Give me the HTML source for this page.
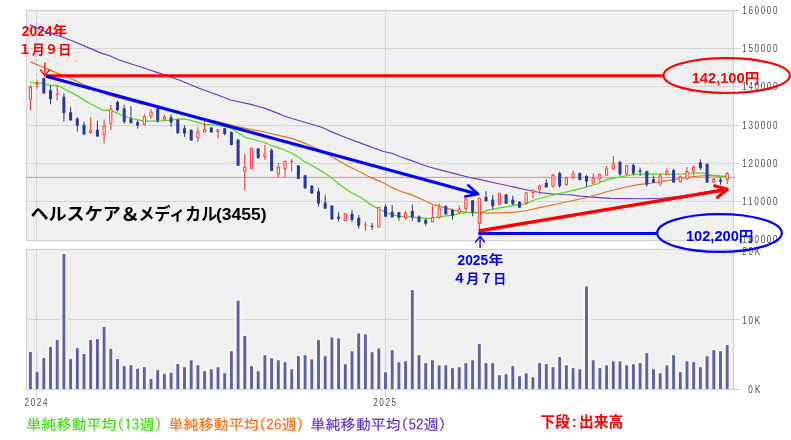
<!DOCTYPE html>
<html lang="ja"><head><meta charset="utf-8"><title>ヘルスケア＆メディカル(3455) 週足チャート</title>
<style>html,body{margin:0;padding:0;background:#fff}svg{display:block;will-change:transform}</style></head>
<body>
<svg width="791" height="440" viewBox="0 0 791 440">
<rect x="0" y="0" width="791" height="440" fill="#ffffff"/>
<rect x="26.5" y="10.5" width="707.0" height="230.0" fill="#f0f0f0" stroke="#d0d0d0" stroke-width="1.2"/>
<rect x="26.5" y="249.5" width="707.0" height="140.0" fill="#f0f0f0" stroke="#d0d0d0" stroke-width="1.2"/>
<g fill="#f8f8f5">
<rect x="27.80" y="84.0" width="5.2" height="27.6" rx="1.5"/>
<rect x="34.50" y="79.2" width="5.2" height="10.6" rx="1.5"/>
<rect x="41.20" y="76.5" width="5.2" height="18.0" rx="1.5"/>
<rect x="47.90" y="84.9" width="5.2" height="20.6" rx="1.5"/>
<rect x="54.60" y="84.9" width="5.2" height="16.6" rx="1.5"/>
<rect x="61.30" y="92.3" width="5.2" height="30.4" rx="1.5"/>
<rect x="68.00" y="105.9" width="5.2" height="15.8" rx="1.5"/>
<rect x="74.70" y="116.0" width="5.2" height="16.8" rx="1.5"/>
<rect x="81.40" y="120.7" width="5.2" height="15.5" rx="1.5"/>
<rect x="88.10" y="116.2" width="5.2" height="18.6" rx="1.5"/>
<rect x="94.80" y="119.7" width="5.2" height="18.2" rx="1.5"/>
<rect x="101.50" y="118.3" width="5.2" height="26.2" rx="1.5"/>
<rect x="108.20" y="103.9" width="5.2" height="26.9" rx="1.5"/>
<rect x="114.90" y="99.5" width="5.2" height="13.1" rx="1.5"/>
<rect x="121.60" y="103.9" width="5.2" height="20.8" rx="1.5"/>
<rect x="128.30" y="105.1" width="5.2" height="19.6" rx="1.5"/>
<rect x="135.00" y="119.3" width="5.2" height="10.5" rx="1.5"/>
<rect x="141.70" y="113.2" width="5.2" height="13.5" rx="1.5"/>
<rect x="148.40" y="108.2" width="5.2" height="11.5" rx="1.5"/>
<rect x="155.10" y="107.0" width="5.2" height="16.7" rx="1.5"/>
<rect x="161.80" y="113.6" width="5.2" height="8.5" rx="1.5"/>
<rect x="168.50" y="113.2" width="5.2" height="14.5" rx="1.5"/>
<rect x="175.20" y="117.6" width="5.2" height="17.4" rx="1.5"/>
<rect x="181.90" y="124.3" width="5.2" height="13.7" rx="1.5"/>
<rect x="188.60" y="128.3" width="5.2" height="13.7" rx="1.5"/>
<rect x="195.30" y="126.3" width="5.2" height="16.8" rx="1.5"/>
<rect x="202.00" y="120.2" width="5.2" height="13.6" rx="1.5"/>
<rect x="208.70" y="125.9" width="5.2" height="7.9" rx="1.5"/>
<rect x="215.40" y="127.9" width="5.2" height="11.9" rx="1.5"/>
<rect x="222.10" y="126.7" width="5.2" height="9.7" rx="1.5"/>
<rect x="228.80" y="130.4" width="5.2" height="16.1" rx="1.5"/>
<rect x="235.50" y="137.8" width="5.2" height="29.3" rx="1.5"/>
<rect x="242.20" y="152.6" width="5.2" height="38.4" rx="1.5"/>
<rect x="248.90" y="146.9" width="5.2" height="23.3" rx="1.5"/>
<rect x="255.60" y="146.9" width="5.2" height="12.8" rx="1.5"/>
<rect x="262.30" y="143.9" width="5.2" height="16.8" rx="1.5"/>
<rect x="269.00" y="147.5" width="5.2" height="24.7" rx="1.5"/>
<rect x="275.70" y="162.1" width="5.2" height="16.3" rx="1.5"/>
<rect x="282.40" y="159.5" width="5.2" height="19.1" rx="1.5"/>
<rect x="289.10" y="157.7" width="5.2" height="15.0" rx="1.5"/>
<rect x="295.80" y="164.0" width="5.2" height="16.3" rx="1.5"/>
<rect x="302.50" y="173.8" width="5.2" height="16.0" rx="1.5"/>
<rect x="309.20" y="184.0" width="5.2" height="10.9" rx="1.5"/>
<rect x="315.90" y="187.0" width="5.2" height="20.6" rx="1.5"/>
<rect x="322.60" y="193.9" width="5.2" height="16.1" rx="1.5"/>
<rect x="329.30" y="204.0" width="5.2" height="16.8" rx="1.5"/>
<rect x="336.00" y="211.0" width="5.2" height="11.4" rx="1.5"/>
<rect x="342.70" y="211.7" width="5.2" height="10.5" rx="1.5"/>
<rect x="349.40" y="209.0" width="5.2" height="14.2" rx="1.5"/>
<rect x="356.10" y="214.1" width="5.2" height="15.4" rx="1.5"/>
<rect x="362.80" y="220.8" width="5.2" height="11.1" rx="1.5"/>
<rect x="369.50" y="221.8" width="5.2" height="9.1" rx="1.5"/>
<rect x="376.20" y="206.0" width="5.2" height="22.8" rx="1.5"/>
<rect x="382.90" y="203.6" width="5.2" height="14.5" rx="1.5"/>
<rect x="389.60" y="204.0" width="5.2" height="14.7" rx="1.5"/>
<rect x="396.30" y="210.7" width="5.2" height="11.1" rx="1.5"/>
<rect x="403.00" y="210.1" width="5.2" height="10.7" rx="1.5"/>
<rect x="409.70" y="203.2" width="5.2" height="18.6" rx="1.5"/>
<rect x="416.40" y="214.3" width="5.2" height="9.5" rx="1.5"/>
<rect x="423.10" y="217.7" width="5.2" height="9.1" rx="1.5"/>
<rect x="429.80" y="204.6" width="5.2" height="19.2" rx="1.5"/>
<rect x="436.50" y="202.6" width="5.2" height="17.1" rx="1.5"/>
<rect x="443.20" y="204.0" width="5.2" height="11.7" rx="1.5"/>
<rect x="449.90" y="207.6" width="5.2" height="13.2" rx="1.5"/>
<rect x="456.60" y="204.6" width="5.2" height="9.7" rx="1.5"/>
<rect x="463.30" y="197.1" width="5.2" height="15.6" rx="1.5"/>
<rect x="470.00" y="198.9" width="5.2" height="18.4" rx="1.5"/>
<rect x="476.70" y="196.5" width="5.2" height="36.4" rx="1.5"/>
<rect x="483.40" y="190.0" width="5.2" height="12.6" rx="1.5"/>
<rect x="490.10" y="193.9" width="5.2" height="16.7" rx="1.5"/>
<rect x="496.80" y="191.5" width="5.2" height="14.5" rx="1.5"/>
<rect x="503.50" y="192.9" width="5.2" height="12.1" rx="1.5"/>
<rect x="510.20" y="194.5" width="5.2" height="11.5" rx="1.5"/>
<rect x="516.90" y="200.2" width="5.2" height="8.8" rx="1.5"/>
<rect x="523.60" y="190.8" width="5.2" height="15.2" rx="1.5"/>
<rect x="530.30" y="188.0" width="5.2" height="11.5" rx="1.5"/>
<rect x="537.00" y="183.4" width="5.2" height="12.1" rx="1.5"/>
<rect x="543.70" y="178.3" width="5.2" height="10.5" rx="1.5"/>
<rect x="550.40" y="172.8" width="5.2" height="15.6" rx="1.5"/>
<rect x="557.10" y="170.6" width="5.2" height="18.2" rx="1.5"/>
<rect x="563.80" y="175.5" width="5.2" height="11.5" rx="1.5"/>
<rect x="570.50" y="169.5" width="5.2" height="11.0" rx="1.5"/>
<rect x="577.20" y="171.5" width="5.2" height="10.1" rx="1.5"/>
<rect x="583.90" y="173.9" width="5.2" height="14.1" rx="1.5"/>
<rect x="590.60" y="172.5" width="5.2" height="12.5" rx="1.5"/>
<rect x="597.30" y="172.5" width="5.2" height="11.5" rx="1.5"/>
<rect x="604.00" y="165.0" width="5.2" height="12.1" rx="1.5"/>
<rect x="610.70" y="154.9" width="5.2" height="15.9" rx="1.5"/>
<rect x="617.40" y="159.7" width="5.2" height="17.4" rx="1.5"/>
<rect x="624.10" y="163.8" width="5.2" height="12.1" rx="1.5"/>
<rect x="630.80" y="162.4" width="5.2" height="14.1" rx="1.5"/>
<rect x="637.50" y="166.4" width="5.2" height="10.7" rx="1.5"/>
<rect x="644.20" y="169.5" width="5.2" height="18.1" rx="1.5"/>
<rect x="650.90" y="174.5" width="5.2" height="9.5" rx="1.5"/>
<rect x="657.60" y="172.5" width="5.2" height="14.7" rx="1.5"/>
<rect x="664.30" y="167.4" width="5.2" height="9.1" rx="1.5"/>
<rect x="671.00" y="167.8" width="5.2" height="16.2" rx="1.5"/>
<rect x="677.70" y="174.5" width="5.2" height="9.5" rx="1.5"/>
<rect x="684.40" y="166.0" width="5.2" height="15.0" rx="1.5"/>
<rect x="691.10" y="164.4" width="5.2" height="12.1" rx="1.5"/>
<rect x="697.80" y="158.3" width="5.2" height="12.5" rx="1.5"/>
<rect x="704.50" y="162.4" width="5.2" height="21.6" rx="1.5"/>
<rect x="711.20" y="177.0" width="5.2" height="7.3" rx="1.5"/>
<rect x="717.90" y="176.6" width="5.2" height="9.2" rx="1.5"/>
<rect x="724.60" y="170.9" width="5.2" height="14.1" rx="1.5"/>
</g>
<g stroke="#d3d3d3" stroke-width="1" fill="none">
<line x1="26.5" y1="48.5" x2="733.5" y2="48.5"/>
<line x1="26.5" y1="86.5" x2="733.5" y2="86.5"/>
<line x1="26.5" y1="125.5" x2="733.5" y2="125.5"/>
<line x1="26.5" y1="163.5" x2="733.5" y2="163.5"/>
<line x1="26.5" y1="201.5" x2="733.5" y2="201.5"/>
<line x1="26.5" y1="319.5" x2="733.5" y2="319.5"/>
<line x1="36.5" y1="10.5" x2="36.5" y2="240.5"/>
<line x1="36.5" y1="249.5" x2="36.5" y2="397.5"/>
<line x1="385.5" y1="10.5" x2="385.5" y2="240.5"/>
<line x1="385.5" y1="249.5" x2="385.5" y2="397.5"/>
<line x1="733.5" y1="10.5" x2="740.0" y2="10.5"/>
<line x1="733.5" y1="48.5" x2="740.0" y2="48.5"/>
<line x1="733.5" y1="86.5" x2="740.0" y2="86.5"/>
<line x1="733.5" y1="125.5" x2="740.0" y2="125.5"/>
<line x1="733.5" y1="163.5" x2="740.0" y2="163.5"/>
<line x1="733.5" y1="201.5" x2="740.0" y2="201.5"/>
<line x1="733.5" y1="239.5" x2="740.0" y2="239.5"/>
<line x1="733.5" y1="249.5" x2="740.0" y2="249.5"/>
<line x1="733.5" y1="319.5" x2="740.0" y2="319.5"/>
<line x1="733.5" y1="389.5" x2="740.0" y2="389.5"/>
</g>
<g font-family="'Liberation Sans', sans-serif" font-size="10.1" fill="#4c4c4c">
<text transform="translate(742.3,14.2) scale(0.8,1)" textLength="44.0" lengthAdjust="spacing">160000</text>
<text transform="translate(742.3,52.2) scale(0.8,1)" textLength="44.0" lengthAdjust="spacing">150000</text>
<text transform="translate(742.3,90.2) scale(0.8,1)" textLength="44.0" lengthAdjust="spacing">140000</text>
<text transform="translate(742.3,129.2) scale(0.8,1)" textLength="44.0" lengthAdjust="spacing">130000</text>
<text transform="translate(742.3,167.2) scale(0.8,1)" textLength="44.0" lengthAdjust="spacing">120000</text>
<text transform="translate(742.3,205.2) scale(0.8,1)" textLength="44.0" lengthAdjust="spacing">110000</text>
<text transform="translate(742.3,243.2) scale(0.8,1)" textLength="44.0" lengthAdjust="spacing">100000</text>
<text transform="translate(742.3,254.6) scale(0.8,1)" textLength="22.4" lengthAdjust="spacing">20K</text>
<text transform="translate(742.3,323.5) scale(0.8,1)" textLength="22.4" lengthAdjust="spacing">10K</text>
<text transform="translate(748.2,393.3) scale(0.8,1)" textLength="15.1" lengthAdjust="spacing">0K</text>
<text transform="translate(24.5,406.2) scale(0.8,1)" textLength="28.6" lengthAdjust="spacing">2024</text>
<text transform="translate(373.2,406.2) scale(0.8,1)" textLength="28.6" lengthAdjust="spacing">2025</text>
</g>
<g fill="#f9f8f2">
<rect x="27.10" y="351.0" width="6.6" height="38.0"/>
<rect x="33.80" y="370.8" width="6.6" height="18.2"/>
<rect x="40.50" y="357.0" width="6.6" height="32.0"/>
<rect x="47.20" y="345.9" width="6.6" height="43.1"/>
<rect x="53.90" y="339.0" width="6.6" height="50.0"/>
<rect x="60.60" y="253.0" width="6.6" height="136.0"/>
<rect x="67.30" y="358.0" width="6.6" height="31.0"/>
<rect x="74.00" y="347.1" width="6.6" height="41.9"/>
<rect x="80.70" y="353.0" width="6.6" height="36.0"/>
<rect x="87.40" y="339.0" width="6.6" height="50.0"/>
<rect x="94.10" y="338.0" width="6.6" height="51.0"/>
<rect x="100.80" y="325.9" width="6.6" height="63.1"/>
<rect x="107.50" y="347.9" width="6.6" height="41.1"/>
<rect x="114.20" y="358.0" width="6.6" height="31.0"/>
<rect x="120.90" y="365.1" width="6.6" height="23.9"/>
<rect x="127.60" y="364.1" width="6.6" height="24.9"/>
<rect x="134.30" y="367.7" width="6.6" height="21.3"/>
<rect x="141.00" y="366.1" width="6.6" height="22.9"/>
<rect x="147.70" y="377.9" width="6.6" height="11.1"/>
<rect x="154.40" y="369.2" width="6.6" height="19.8"/>
<rect x="161.10" y="372.8" width="6.6" height="16.2"/>
<rect x="167.80" y="371.8" width="6.6" height="17.2"/>
<rect x="174.50" y="363.1" width="6.6" height="25.9"/>
<rect x="181.20" y="366.2" width="6.6" height="22.8"/>
<rect x="187.90" y="359.3" width="6.6" height="29.7"/>
<rect x="194.60" y="364.3" width="6.6" height="24.7"/>
<rect x="201.30" y="370.2" width="6.6" height="18.8"/>
<rect x="208.00" y="368.2" width="6.6" height="20.8"/>
<rect x="214.70" y="366.2" width="6.6" height="22.8"/>
<rect x="221.40" y="372.2" width="6.6" height="16.8"/>
<rect x="228.10" y="350.2" width="6.6" height="38.8"/>
<rect x="234.80" y="299.7" width="6.6" height="89.3"/>
<rect x="241.50" y="335.0" width="6.6" height="54.0"/>
<rect x="248.20" y="365.1" width="6.6" height="23.9"/>
<rect x="254.90" y="370.2" width="6.6" height="18.8"/>
<rect x="261.60" y="354.2" width="6.6" height="34.8"/>
<rect x="268.30" y="357.3" width="6.6" height="31.7"/>
<rect x="275.00" y="359.3" width="6.6" height="29.7"/>
<rect x="281.70" y="361.1" width="6.6" height="27.9"/>
<rect x="288.40" y="368.2" width="6.6" height="20.8"/>
<rect x="295.10" y="355.2" width="6.6" height="33.8"/>
<rect x="301.80" y="354.2" width="6.6" height="34.8"/>
<rect x="308.50" y="358.3" width="6.6" height="30.7"/>
<rect x="315.20" y="339.1" width="6.6" height="49.9"/>
<rect x="321.90" y="355.2" width="6.6" height="33.8"/>
<rect x="328.60" y="336.4" width="6.6" height="52.6"/>
<rect x="335.30" y="337.4" width="6.6" height="51.6"/>
<rect x="342.00" y="363.3" width="6.6" height="25.7"/>
<rect x="348.70" y="350.2" width="6.6" height="38.8"/>
<rect x="355.40" y="332.4" width="6.6" height="56.6"/>
<rect x="362.10" y="333.4" width="6.6" height="55.6"/>
<rect x="368.80" y="351.2" width="6.6" height="37.8"/>
<rect x="375.50" y="347.5" width="6.6" height="41.5"/>
<rect x="382.20" y="371.4" width="6.6" height="17.6"/>
<rect x="388.90" y="349.2" width="6.6" height="39.8"/>
<rect x="395.60" y="361.3" width="6.6" height="27.7"/>
<rect x="402.30" y="360.3" width="6.6" height="28.7"/>
<rect x="409.00" y="289.1" width="6.6" height="99.9"/>
<rect x="415.70" y="354.2" width="6.6" height="34.8"/>
<rect x="422.40" y="362.1" width="6.6" height="26.9"/>
<rect x="429.10" y="359.3" width="6.6" height="29.7"/>
<rect x="435.80" y="364.3" width="6.6" height="24.7"/>
<rect x="442.50" y="364.3" width="6.6" height="24.7"/>
<rect x="449.20" y="367.2" width="6.6" height="21.8"/>
<rect x="455.90" y="366.2" width="6.6" height="22.8"/>
<rect x="462.60" y="362.1" width="6.6" height="26.9"/>
<rect x="469.30" y="359.3" width="6.6" height="29.7"/>
<rect x="476.00" y="343.1" width="6.6" height="45.9"/>
<rect x="482.70" y="362.1" width="6.6" height="26.9"/>
<rect x="489.40" y="362.1" width="6.6" height="26.9"/>
<rect x="496.10" y="374.2" width="6.6" height="14.8"/>
<rect x="502.80" y="373.2" width="6.6" height="15.8"/>
<rect x="509.50" y="365.1" width="6.6" height="23.9"/>
<rect x="516.20" y="375.3" width="6.6" height="13.7"/>
<rect x="522.90" y="372.2" width="6.6" height="16.8"/>
<rect x="529.60" y="376.3" width="6.6" height="12.7"/>
<rect x="536.30" y="362.1" width="6.6" height="26.9"/>
<rect x="543.00" y="363.1" width="6.6" height="25.9"/>
<rect x="549.70" y="366.2" width="6.6" height="22.8"/>
<rect x="556.40" y="356.0" width="6.6" height="33.0"/>
<rect x="563.10" y="364.3" width="6.6" height="24.7"/>
<rect x="569.80" y="367.2" width="6.6" height="21.8"/>
<rect x="576.50" y="368.2" width="6.6" height="20.8"/>
<rect x="583.20" y="285.5" width="6.6" height="103.5"/>
<rect x="589.90" y="359.3" width="6.6" height="29.7"/>
<rect x="596.60" y="367.2" width="6.6" height="21.8"/>
<rect x="603.30" y="364.3" width="6.6" height="24.7"/>
<rect x="610.00" y="360.3" width="6.6" height="28.7"/>
<rect x="616.70" y="360.3" width="6.6" height="28.7"/>
<rect x="623.40" y="364.3" width="6.6" height="24.7"/>
<rect x="630.10" y="363.3" width="6.6" height="25.7"/>
<rect x="636.80" y="362.1" width="6.6" height="26.9"/>
<rect x="643.50" y="352.2" width="6.6" height="36.8"/>
<rect x="650.20" y="368.2" width="6.6" height="20.8"/>
<rect x="656.90" y="372.2" width="6.6" height="16.8"/>
<rect x="663.60" y="364.3" width="6.6" height="24.7"/>
<rect x="670.30" y="354.2" width="6.6" height="34.8"/>
<rect x="677.00" y="371.2" width="6.6" height="17.8"/>
<rect x="683.70" y="360.3" width="6.6" height="28.7"/>
<rect x="690.40" y="361.1" width="6.6" height="27.9"/>
<rect x="697.10" y="366.2" width="6.6" height="22.8"/>
<rect x="703.80" y="355.2" width="6.6" height="33.8"/>
<rect x="710.50" y="349.2" width="6.6" height="39.8"/>
<rect x="717.20" y="350.2" width="6.6" height="38.8"/>
<rect x="723.90" y="344.1" width="6.6" height="44.9"/>
</g>
<g fill="#5a62a9">
<rect x="28.95" y="352.0" width="2.9" height="37.0"/>
<rect x="35.65" y="371.8" width="2.9" height="17.2"/>
<rect x="42.35" y="358.0" width="2.9" height="31.0"/>
<rect x="49.05" y="346.9" width="2.9" height="42.1"/>
<rect x="55.75" y="340.0" width="2.9" height="49.0"/>
<rect x="62.45" y="254.0" width="2.9" height="135.0"/>
<rect x="69.15" y="359.0" width="2.9" height="30.0"/>
<rect x="75.85" y="348.1" width="2.9" height="40.9"/>
<rect x="82.55" y="354.0" width="2.9" height="35.0"/>
<rect x="89.25" y="340.0" width="2.9" height="49.0"/>
<rect x="95.95" y="339.0" width="2.9" height="50.0"/>
<rect x="102.65" y="326.9" width="2.9" height="62.1"/>
<rect x="109.35" y="348.9" width="2.9" height="40.1"/>
<rect x="116.05" y="359.0" width="2.9" height="30.0"/>
<rect x="122.75" y="366.1" width="2.9" height="22.9"/>
<rect x="129.45" y="365.1" width="2.9" height="23.9"/>
<rect x="136.15" y="368.7" width="2.9" height="20.3"/>
<rect x="142.85" y="367.1" width="2.9" height="21.9"/>
<rect x="149.55" y="378.9" width="2.9" height="10.1"/>
<rect x="156.25" y="370.2" width="2.9" height="18.8"/>
<rect x="162.95" y="373.8" width="2.9" height="15.2"/>
<rect x="169.65" y="372.8" width="2.9" height="16.2"/>
<rect x="176.35" y="364.1" width="2.9" height="24.9"/>
<rect x="183.05" y="367.2" width="2.9" height="21.8"/>
<rect x="189.75" y="360.3" width="2.9" height="28.7"/>
<rect x="196.45" y="365.3" width="2.9" height="23.7"/>
<rect x="203.15" y="371.2" width="2.9" height="17.8"/>
<rect x="209.85" y="369.2" width="2.9" height="19.8"/>
<rect x="216.55" y="367.2" width="2.9" height="21.8"/>
<rect x="223.25" y="373.2" width="2.9" height="15.8"/>
<rect x="229.95" y="351.2" width="2.9" height="37.8"/>
<rect x="236.65" y="300.7" width="2.9" height="88.3"/>
<rect x="243.35" y="336.0" width="2.9" height="53.0"/>
<rect x="250.05" y="366.1" width="2.9" height="22.9"/>
<rect x="256.75" y="371.2" width="2.9" height="17.8"/>
<rect x="263.45" y="355.2" width="2.9" height="33.8"/>
<rect x="270.15" y="358.3" width="2.9" height="30.7"/>
<rect x="276.85" y="360.3" width="2.9" height="28.7"/>
<rect x="283.55" y="362.1" width="2.9" height="26.9"/>
<rect x="290.25" y="369.2" width="2.9" height="19.8"/>
<rect x="296.95" y="356.2" width="2.9" height="32.8"/>
<rect x="303.65" y="355.2" width="2.9" height="33.8"/>
<rect x="310.35" y="359.3" width="2.9" height="29.7"/>
<rect x="317.05" y="340.1" width="2.9" height="48.9"/>
<rect x="323.75" y="356.2" width="2.9" height="32.8"/>
<rect x="330.45" y="337.4" width="2.9" height="51.6"/>
<rect x="337.15" y="338.4" width="2.9" height="50.6"/>
<rect x="343.85" y="364.3" width="2.9" height="24.7"/>
<rect x="350.55" y="351.2" width="2.9" height="37.8"/>
<rect x="357.25" y="333.4" width="2.9" height="55.6"/>
<rect x="363.95" y="334.4" width="2.9" height="54.6"/>
<rect x="370.65" y="352.2" width="2.9" height="36.8"/>
<rect x="377.35" y="348.5" width="2.9" height="40.5"/>
<rect x="384.05" y="372.4" width="2.9" height="16.6"/>
<rect x="390.75" y="350.2" width="2.9" height="38.8"/>
<rect x="397.45" y="362.3" width="2.9" height="26.7"/>
<rect x="404.15" y="361.3" width="2.9" height="27.7"/>
<rect x="410.85" y="290.1" width="2.9" height="98.9"/>
<rect x="417.55" y="355.2" width="2.9" height="33.8"/>
<rect x="424.25" y="363.1" width="2.9" height="25.9"/>
<rect x="430.95" y="360.3" width="2.9" height="28.7"/>
<rect x="437.65" y="365.3" width="2.9" height="23.7"/>
<rect x="444.35" y="365.3" width="2.9" height="23.7"/>
<rect x="451.05" y="368.2" width="2.9" height="20.8"/>
<rect x="457.75" y="367.2" width="2.9" height="21.8"/>
<rect x="464.45" y="363.1" width="2.9" height="25.9"/>
<rect x="471.15" y="360.3" width="2.9" height="28.7"/>
<rect x="477.85" y="344.1" width="2.9" height="44.9"/>
<rect x="484.55" y="363.1" width="2.9" height="25.9"/>
<rect x="491.25" y="363.1" width="2.9" height="25.9"/>
<rect x="497.95" y="375.2" width="2.9" height="13.8"/>
<rect x="504.65" y="374.2" width="2.9" height="14.8"/>
<rect x="511.35" y="366.1" width="2.9" height="22.9"/>
<rect x="518.05" y="376.3" width="2.9" height="12.7"/>
<rect x="524.75" y="373.2" width="2.9" height="15.8"/>
<rect x="531.45" y="377.3" width="2.9" height="11.7"/>
<rect x="538.15" y="363.1" width="2.9" height="25.9"/>
<rect x="544.85" y="364.1" width="2.9" height="24.9"/>
<rect x="551.55" y="367.2" width="2.9" height="21.8"/>
<rect x="558.25" y="357.0" width="2.9" height="32.0"/>
<rect x="564.95" y="365.3" width="2.9" height="23.7"/>
<rect x="571.65" y="368.2" width="2.9" height="20.8"/>
<rect x="578.35" y="369.2" width="2.9" height="19.8"/>
<rect x="585.05" y="286.5" width="2.9" height="102.5"/>
<rect x="591.75" y="360.3" width="2.9" height="28.7"/>
<rect x="598.45" y="368.2" width="2.9" height="20.8"/>
<rect x="605.15" y="365.3" width="2.9" height="23.7"/>
<rect x="611.85" y="361.3" width="2.9" height="27.7"/>
<rect x="618.55" y="361.3" width="2.9" height="27.7"/>
<rect x="625.25" y="365.3" width="2.9" height="23.7"/>
<rect x="631.95" y="364.3" width="2.9" height="24.7"/>
<rect x="638.65" y="363.1" width="2.9" height="25.9"/>
<rect x="645.35" y="353.2" width="2.9" height="35.8"/>
<rect x="652.05" y="369.2" width="2.9" height="19.8"/>
<rect x="658.75" y="373.2" width="2.9" height="15.8"/>
<rect x="665.45" y="365.3" width="2.9" height="23.7"/>
<rect x="672.15" y="355.2" width="2.9" height="33.8"/>
<rect x="678.85" y="372.2" width="2.9" height="16.8"/>
<rect x="685.55" y="361.3" width="2.9" height="27.7"/>
<rect x="692.25" y="362.1" width="2.9" height="26.9"/>
<rect x="698.95" y="367.2" width="2.9" height="21.8"/>
<rect x="705.65" y="356.2" width="2.9" height="32.8"/>
<rect x="712.35" y="350.2" width="2.9" height="38.8"/>
<rect x="719.05" y="351.2" width="2.9" height="37.8"/>
<rect x="725.75" y="345.1" width="2.9" height="43.9"/>
</g>
<line x1="26.5" y1="177.4" x2="735.0" y2="177.4" stroke="#ff8080" stroke-width="1"/>
<text font-family="'Liberation Sans', 'Noto Sans CJK JP', sans-serif" font-weight="700" fill="#ff0000"><tspan x="21.8" y="36" font-size="14.8" textLength="30.6" lengthAdjust="spacingAndGlyphs">2024</tspan><tspan x="52.6" y="34.9" font-size="12.8" textLength="14.9" lengthAdjust="spacingAndGlyphs">年</tspan></text>
<polyline points="29.8,24.7 40.3,29.5 51.7,34.0 60.7,36.5 70.7,40.3 85.9,46.6 101.1,53.1 109.9,55.8 119.1,60.0 141.6,67.3 160.0,73.4 179.8,80.2 199.7,88.5 215.0,94.0 230.7,100.0 250.9,104.4 264.5,108.1 278.6,113.6 284.7,116.2 295.4,119.5 311.6,124.3 321.7,127.3 329.8,131.1 345.0,137.2 360.0,142.9 383.4,151.5 392.0,153.2 401.6,157.2 411.7,160.6 419.8,163.8 430.2,167.2 450.5,172.6 470.7,177.7 479.4,179.4 490.9,182.0 501.0,184.2 515.2,187.4 526.1,189.8 539.4,192.5 551.6,193.9 561.7,194.5 570.1,194.7 580.2,196.1 596.4,197.4 610.6,198.4 640.9,198.8 661.1,198.2 678.0,196.6 700.7,192.8 727.5,188.3" fill="none" stroke="#6a35cf" stroke-width="1.15" stroke-linejoin="round"/>
<polyline points="30.3,61.9 40.0,65.7 50.1,70.1 59.0,73.9 71.6,79.0 84.2,84.7 93.1,88.4 105.7,94.1 115.9,97.3 128.5,100.5 139.9,103.6 150.0,105.5 165.0,109.3 180.0,113.2 200.0,117.8 216.5,121.2 230.7,124.7 237.8,126.9 250.9,129.3 264.5,132.0 278.6,135.4 291.4,138.4 304.5,143.1 318.7,149.6 326.7,153.7 330.0,155.7 339.9,161.4 348.2,166.3 360.3,172.0 369.4,176.9 383.1,182.6 391.5,187.4 401.6,191.8 410.0,194.1 422.1,199.5 432.2,204.2 444.4,207.6 456.5,210.7 470.7,212.7 479.4,212.7 490.9,213.1 501.0,212.7 515.2,212.1 526.1,210.7 539.4,207.6 551.6,205.0 561.7,203.0 572.1,200.8 584.3,198.2 596.4,194.7 610.6,190.7 624.7,187.2 638.9,184.6 653.0,183.0 667.2,180.6 681.4,178.5 693.7,176.5 707.0,175.5 719.8,176.1 727.5,176.2" fill="none" stroke="#e2711d" stroke-width="1.15" stroke-linejoin="round"/>
<polyline points="30.3,82.5 43.0,83.4 50.6,85.3 57.5,85.3 76.6,95.4 89.8,103.5 103.0,110.2 111.0,110.6 117.1,113.0 123.8,116.2 130.4,118.0 137.3,119.7 143.6,121.1 157.5,121.1 164.4,120.7 170.0,120.2 182.0,118.8 190.0,120.2 204.4,124.3 217.5,125.3 224.2,126.3 231.3,128.3 237.8,132.4 244.4,137.0 251.5,138.8 257.6,140.5 264.5,142.5 271.5,145.5 278.6,147.9 284.7,150.0 291.4,153.0 298.4,157.0 304.5,161.7 311.6,165.3 320.7,170.6 330.8,177.3 340.9,185.4 351.0,192.5 361.1,197.5 369.2,203.6 377.3,208.2 385.4,212.3 393.5,215.1 401.6,216.7 411.7,217.1 418.1,217.7 426.2,218.3 432.2,218.1 440.3,216.7 452.5,215.1 465.8,212.3 479.4,212.1 490.9,209.6 501.0,207.6 512.8,205.6 526.1,203.6 535.4,199.5 547.5,196.5 559.7,193.6 572.1,190.7 584.3,187.6 596.4,184.2 606.5,179.6 620.1,176.9 633.4,174.5 646.8,173.9 660.1,174.1 673.7,174.1 683.4,173.9 693.7,173.1 703.6,173.1 709.7,174.9 719.8,176.1 727.5,176.4" fill="none" stroke="#4fdc12" stroke-width="1.25" stroke-linejoin="round"/>
<g>
<line x1="30.40" y1="85.0" x2="30.40" y2="86.8" stroke="#ff2d2d" stroke-width="1.1"/>
<line x1="30.40" y1="99.6" x2="30.40" y2="110.6" stroke="#ff2d2d" stroke-width="1.1"/>
<rect x="29.30" y="87.2" width="2.2" height="11.9" fill="#fff3f3" stroke="#ff2d2d" stroke-width="0.95"/>
<line x1="37.10" y1="80.2" x2="37.10" y2="82.5" stroke="#ff2d2d" stroke-width="1.1"/>
<line x1="37.10" y1="84.6" x2="37.10" y2="88.8" stroke="#ff2d2d" stroke-width="1.1"/>
<rect x="36.00" y="83.0" width="2.2" height="1.2" fill="#fff3f3" stroke="#ff2d2d" stroke-width="0.95"/>
<line x1="43.80" y1="77.5" x2="43.80" y2="93.5" stroke="#2a3aa0" stroke-width="1.1"/>
<rect x="42.25" y="78.1" width="3.1" height="15.4" fill="#2a3aa0"/>
<line x1="50.50" y1="85.9" x2="50.50" y2="104.5" stroke="#2a3aa0" stroke-width="1.1"/>
<rect x="48.95" y="90.1" width="3.1" height="9.1" fill="#2a3aa0"/>
<line x1="57.20" y1="85.9" x2="57.20" y2="93.5" stroke="#ff2d2d" stroke-width="1.1"/>
<line x1="57.20" y1="94.8" x2="57.20" y2="100.5" stroke="#ff2d2d" stroke-width="1.1"/>
<rect x="55.65" y="93.5" width="3.1" height="1.3" fill="#ff2d2d"/>
<line x1="63.90" y1="93.3" x2="63.90" y2="121.7" stroke="#2a3aa0" stroke-width="1.1"/>
<rect x="62.35" y="96.8" width="3.1" height="16.2" fill="#2a3aa0"/>
<line x1="70.60" y1="106.9" x2="70.60" y2="120.7" stroke="#2a3aa0" stroke-width="1.1"/>
<rect x="69.05" y="112.2" width="3.1" height="8.1" fill="#2a3aa0"/>
<line x1="77.30" y1="117.0" x2="77.30" y2="131.8" stroke="#2a3aa0" stroke-width="1.1"/>
<rect x="75.75" y="118.7" width="3.1" height="7.0" fill="#2a3aa0"/>
<line x1="84.00" y1="121.7" x2="84.00" y2="135.2" stroke="#2a3aa0" stroke-width="1.1"/>
<rect x="82.45" y="124.7" width="3.1" height="9.7" fill="#2a3aa0"/>
<line x1="90.70" y1="117.2" x2="90.70" y2="129.8" stroke="#ff2d2d" stroke-width="1.1"/>
<line x1="90.70" y1="133.2" x2="90.70" y2="133.8" stroke="#ff2d2d" stroke-width="1.1"/>
<rect x="89.60" y="130.2" width="2.2" height="2.5" fill="#fff3f3" stroke="#ff2d2d" stroke-width="0.95"/>
<line x1="97.40" y1="120.7" x2="97.40" y2="136.9" stroke="#2a3aa0" stroke-width="1.1"/>
<rect x="95.85" y="129.8" width="3.1" height="6.7" fill="#2a3aa0"/>
<line x1="104.10" y1="119.3" x2="104.10" y2="125.7" stroke="#ff2d2d" stroke-width="1.1"/>
<line x1="104.10" y1="134.8" x2="104.10" y2="143.5" stroke="#ff2d2d" stroke-width="1.1"/>
<rect x="103.00" y="126.2" width="2.2" height="8.2" fill="#fff3f3" stroke="#ff2d2d" stroke-width="0.95"/>
<line x1="110.80" y1="104.9" x2="110.80" y2="108.5" stroke="#ff2d2d" stroke-width="1.1"/>
<line x1="110.80" y1="123.7" x2="110.80" y2="129.8" stroke="#ff2d2d" stroke-width="1.1"/>
<rect x="109.70" y="109.0" width="2.2" height="14.3" fill="#fff3f3" stroke="#ff2d2d" stroke-width="0.95"/>
<line x1="117.50" y1="100.5" x2="117.50" y2="111.6" stroke="#2a3aa0" stroke-width="1.1"/>
<rect x="115.95" y="101.9" width="3.1" height="8.3" fill="#2a3aa0"/>
<line x1="124.20" y1="104.9" x2="124.20" y2="123.7" stroke="#2a3aa0" stroke-width="1.1"/>
<rect x="122.65" y="108.5" width="3.1" height="13.2" fill="#2a3aa0"/>
<line x1="130.90" y1="106.1" x2="130.90" y2="123.7" stroke="#2a3aa0" stroke-width="1.1"/>
<rect x="129.35" y="118.7" width="3.1" height="4.4" fill="#2a3aa0"/>
<line x1="137.60" y1="120.3" x2="137.60" y2="128.8" stroke="#2a3aa0" stroke-width="1.1"/>
<rect x="136.05" y="122.1" width="3.1" height="3.6" fill="#2a3aa0"/>
<line x1="144.30" y1="114.2" x2="144.30" y2="116.2" stroke="#ff2d2d" stroke-width="1.1"/>
<line x1="144.30" y1="124.7" x2="144.30" y2="125.7" stroke="#ff2d2d" stroke-width="1.1"/>
<rect x="143.20" y="116.7" width="2.2" height="7.6" fill="#fff3f3" stroke="#ff2d2d" stroke-width="0.95"/>
<line x1="151.00" y1="109.2" x2="151.00" y2="111.6" stroke="#ff2d2d" stroke-width="1.1"/>
<line x1="151.00" y1="116.6" x2="151.00" y2="118.7" stroke="#ff2d2d" stroke-width="1.1"/>
<rect x="149.90" y="112.0" width="2.2" height="4.1" fill="#fff3f3" stroke="#ff2d2d" stroke-width="0.95"/>
<line x1="157.70" y1="108.0" x2="157.70" y2="122.7" stroke="#2a3aa0" stroke-width="1.1"/>
<rect x="156.15" y="108.5" width="3.1" height="12.2" fill="#2a3aa0"/>
<line x1="164.40" y1="114.6" x2="164.40" y2="116.6" stroke="#ff2d2d" stroke-width="1.1"/>
<line x1="164.40" y1="119.7" x2="164.40" y2="121.1" stroke="#ff2d2d" stroke-width="1.1"/>
<rect x="163.30" y="117.0" width="2.2" height="2.2" fill="#fff3f3" stroke="#ff2d2d" stroke-width="0.95"/>
<line x1="171.10" y1="114.2" x2="171.10" y2="126.7" stroke="#2a3aa0" stroke-width="1.1"/>
<rect x="169.55" y="117.2" width="3.1" height="5.5" fill="#2a3aa0"/>
<line x1="177.80" y1="118.6" x2="177.80" y2="134.0" stroke="#2a3aa0" stroke-width="1.1"/>
<rect x="176.25" y="120.0" width="3.1" height="13.1" fill="#2a3aa0"/>
<line x1="184.50" y1="125.3" x2="184.50" y2="137.0" stroke="#2a3aa0" stroke-width="1.1"/>
<rect x="182.95" y="128.3" width="3.1" height="5.1" fill="#2a3aa0"/>
<line x1="191.20" y1="129.3" x2="191.20" y2="141.0" stroke="#2a3aa0" stroke-width="1.1"/>
<rect x="189.65" y="129.9" width="3.1" height="10.6" fill="#2a3aa0"/>
<line x1="197.90" y1="127.3" x2="197.90" y2="131.4" stroke="#ff2d2d" stroke-width="1.1"/>
<line x1="197.90" y1="138.0" x2="197.90" y2="142.1" stroke="#ff2d2d" stroke-width="1.1"/>
<rect x="196.80" y="131.8" width="2.2" height="5.7" fill="#fff3f3" stroke="#ff2d2d" stroke-width="0.95"/>
<line x1="204.60" y1="121.2" x2="204.60" y2="128.9" stroke="#ff2d2d" stroke-width="1.1"/>
<line x1="204.60" y1="132.4" x2="204.60" y2="132.8" stroke="#ff2d2d" stroke-width="1.1"/>
<rect x="203.50" y="129.3" width="2.2" height="2.6" fill="#fff3f3" stroke="#ff2d2d" stroke-width="0.95"/>
<line x1="211.30" y1="126.9" x2="211.30" y2="132.8" stroke="#2a3aa0" stroke-width="1.1"/>
<rect x="209.75" y="127.7" width="3.1" height="4.7" fill="#2a3aa0"/>
<line x1="218.00" y1="128.9" x2="218.00" y2="129.3" stroke="#ff2d2d" stroke-width="1.1"/>
<line x1="218.00" y1="132.0" x2="218.00" y2="138.8" stroke="#ff2d2d" stroke-width="1.1"/>
<rect x="216.90" y="129.8" width="2.2" height="1.8" fill="#fff3f3" stroke="#ff2d2d" stroke-width="0.95"/>
<line x1="224.70" y1="127.7" x2="224.70" y2="135.4" stroke="#2a3aa0" stroke-width="1.1"/>
<rect x="223.15" y="128.3" width="3.1" height="5.7" fill="#2a3aa0"/>
<line x1="231.40" y1="131.4" x2="231.40" y2="145.5" stroke="#2a3aa0" stroke-width="1.1"/>
<rect x="229.85" y="132.0" width="3.1" height="12.9" fill="#2a3aa0"/>
<line x1="238.10" y1="138.8" x2="238.10" y2="166.1" stroke="#2a3aa0" stroke-width="1.1"/>
<rect x="236.55" y="139.8" width="3.1" height="25.9" fill="#2a3aa0"/>
<line x1="244.80" y1="153.6" x2="244.80" y2="166.7" stroke="#ff2d2d" stroke-width="1.1"/>
<line x1="244.80" y1="171.8" x2="244.80" y2="190.0" stroke="#ff2d2d" stroke-width="1.1"/>
<rect x="243.70" y="167.1" width="2.2" height="4.2" fill="#fff3f3" stroke="#ff2d2d" stroke-width="0.95"/>
<line x1="251.50" y1="147.9" x2="251.50" y2="147.9" stroke="#ff2d2d" stroke-width="1.1"/>
<line x1="251.50" y1="168.8" x2="251.50" y2="169.2" stroke="#ff2d2d" stroke-width="1.1"/>
<rect x="250.40" y="148.3" width="2.2" height="20.0" fill="#fff3f3" stroke="#ff2d2d" stroke-width="0.95"/>
<line x1="258.20" y1="147.9" x2="258.20" y2="158.7" stroke="#2a3aa0" stroke-width="1.1"/>
<rect x="256.65" y="148.5" width="3.1" height="9.5" fill="#2a3aa0"/>
<line x1="264.90" y1="144.9" x2="264.90" y2="153.6" stroke="#ff2d2d" stroke-width="1.1"/>
<line x1="264.90" y1="157.2" x2="264.90" y2="159.7" stroke="#ff2d2d" stroke-width="1.1"/>
<rect x="263.80" y="154.0" width="2.2" height="2.7" fill="#fff3f3" stroke="#ff2d2d" stroke-width="0.95"/>
<line x1="271.60" y1="148.5" x2="271.60" y2="171.2" stroke="#2a3aa0" stroke-width="1.1"/>
<rect x="270.05" y="150.2" width="3.1" height="20.6" fill="#2a3aa0"/>
<line x1="278.30" y1="163.1" x2="278.30" y2="166.8" stroke="#ff2d2d" stroke-width="1.1"/>
<line x1="278.30" y1="174.5" x2="278.30" y2="177.4" stroke="#ff2d2d" stroke-width="1.1"/>
<rect x="277.20" y="167.2" width="2.2" height="6.8" fill="#fff3f3" stroke="#ff2d2d" stroke-width="0.95"/>
<line x1="285.00" y1="160.5" x2="285.00" y2="161.2" stroke="#ff2d2d" stroke-width="1.1"/>
<line x1="285.00" y1="169.0" x2="285.00" y2="177.6" stroke="#ff2d2d" stroke-width="1.1"/>
<rect x="283.90" y="161.6" width="2.2" height="6.9" fill="#fff3f3" stroke="#ff2d2d" stroke-width="0.95"/>
<line x1="291.70" y1="158.7" x2="291.70" y2="160.9" stroke="#ff2d2d" stroke-width="1.1"/>
<line x1="291.70" y1="161.5" x2="291.70" y2="171.7" stroke="#ff2d2d" stroke-width="1.1"/>
<rect x="290.15" y="160.9" width="3.1" height="1.0" fill="#ff2d2d"/>
<line x1="298.40" y1="165.0" x2="298.40" y2="179.3" stroke="#2a3aa0" stroke-width="1.1"/>
<rect x="296.85" y="165.5" width="3.1" height="13.3" fill="#2a3aa0"/>
<line x1="305.10" y1="174.8" x2="305.10" y2="188.8" stroke="#2a3aa0" stroke-width="1.1"/>
<rect x="303.55" y="175.3" width="3.1" height="13.1" fill="#2a3aa0"/>
<line x1="311.80" y1="185.0" x2="311.80" y2="193.9" stroke="#2a3aa0" stroke-width="1.1"/>
<rect x="310.25" y="185.8" width="3.1" height="7.7" fill="#2a3aa0"/>
<line x1="318.50" y1="188.0" x2="318.50" y2="206.6" stroke="#2a3aa0" stroke-width="1.1"/>
<rect x="316.95" y="191.4" width="3.1" height="12.2" fill="#2a3aa0"/>
<line x1="325.20" y1="194.9" x2="325.20" y2="209.0" stroke="#2a3aa0" stroke-width="1.1"/>
<rect x="323.65" y="202.6" width="3.1" height="6.0" fill="#2a3aa0"/>
<line x1="331.90" y1="205.0" x2="331.90" y2="219.8" stroke="#2a3aa0" stroke-width="1.1"/>
<rect x="330.35" y="205.6" width="3.1" height="13.8" fill="#2a3aa0"/>
<line x1="338.60" y1="212.0" x2="338.60" y2="221.4" stroke="#2a3aa0" stroke-width="1.1"/>
<rect x="337.05" y="216.7" width="3.1" height="2.0" fill="#2a3aa0"/>
<line x1="345.30" y1="212.7" x2="345.30" y2="213.3" stroke="#ff2d2d" stroke-width="1.1"/>
<line x1="345.30" y1="220.8" x2="345.30" y2="221.2" stroke="#ff2d2d" stroke-width="1.1"/>
<rect x="344.20" y="213.8" width="2.2" height="6.6" fill="#fff3f3" stroke="#ff2d2d" stroke-width="0.95"/>
<line x1="352.00" y1="210.0" x2="352.00" y2="222.2" stroke="#2a3aa0" stroke-width="1.1"/>
<rect x="350.45" y="213.7" width="3.1" height="6.1" fill="#2a3aa0"/>
<line x1="358.70" y1="215.1" x2="358.70" y2="228.5" stroke="#2a3aa0" stroke-width="1.1"/>
<rect x="357.15" y="217.7" width="3.1" height="8.1" fill="#2a3aa0"/>
<line x1="365.40" y1="221.8" x2="365.40" y2="224.5" stroke="#ff2d2d" stroke-width="1.1"/>
<line x1="365.40" y1="225.2" x2="365.40" y2="230.9" stroke="#ff2d2d" stroke-width="1.1"/>
<rect x="363.85" y="224.5" width="3.1" height="1.0" fill="#ff2d2d"/>
<line x1="372.10" y1="222.8" x2="372.10" y2="229.9" stroke="#2a3aa0" stroke-width="1.1"/>
<rect x="370.55" y="225.8" width="3.1" height="1.2" fill="#2a3aa0"/>
<line x1="378.80" y1="207.0" x2="378.80" y2="207.0" stroke="#ff2d2d" stroke-width="1.1"/>
<line x1="378.80" y1="227.4" x2="378.80" y2="227.8" stroke="#ff2d2d" stroke-width="1.1"/>
<rect x="377.70" y="207.4" width="2.2" height="19.5" fill="#fff3f3" stroke="#ff2d2d" stroke-width="0.95"/>
<line x1="385.50" y1="204.6" x2="385.50" y2="217.1" stroke="#2a3aa0" stroke-width="1.1"/>
<rect x="383.95" y="206.6" width="3.1" height="10.1" fill="#2a3aa0"/>
<line x1="392.20" y1="205.0" x2="392.20" y2="217.7" stroke="#2a3aa0" stroke-width="1.1"/>
<rect x="390.65" y="211.7" width="3.1" height="5.6" fill="#2a3aa0"/>
<line x1="398.90" y1="211.7" x2="398.90" y2="220.8" stroke="#2a3aa0" stroke-width="1.1"/>
<rect x="397.35" y="212.3" width="3.1" height="5.4" fill="#2a3aa0"/>
<line x1="405.60" y1="211.1" x2="405.60" y2="212.7" stroke="#ff2d2d" stroke-width="1.1"/>
<line x1="405.60" y1="218.3" x2="405.60" y2="219.8" stroke="#ff2d2d" stroke-width="1.1"/>
<rect x="404.50" y="213.1" width="2.2" height="4.7" fill="#fff3f3" stroke="#ff2d2d" stroke-width="0.95"/>
<line x1="412.30" y1="204.2" x2="412.30" y2="220.8" stroke="#2a3aa0" stroke-width="1.1"/>
<rect x="410.75" y="210.9" width="3.1" height="6.3" fill="#2a3aa0"/>
<line x1="419.00" y1="215.3" x2="419.00" y2="222.8" stroke="#2a3aa0" stroke-width="1.1"/>
<rect x="417.45" y="216.5" width="3.1" height="5.3" fill="#2a3aa0"/>
<line x1="425.70" y1="218.7" x2="425.70" y2="225.8" stroke="#2a3aa0" stroke-width="1.1"/>
<rect x="424.15" y="219.8" width="3.1" height="4.0" fill="#2a3aa0"/>
<line x1="432.40" y1="205.6" x2="432.40" y2="217.1" stroke="#ff2d2d" stroke-width="1.1"/>
<line x1="432.40" y1="222.4" x2="432.40" y2="222.8" stroke="#ff2d2d" stroke-width="1.1"/>
<rect x="431.30" y="217.5" width="2.2" height="4.4" fill="#fff3f3" stroke="#ff2d2d" stroke-width="0.95"/>
<line x1="439.10" y1="203.6" x2="439.10" y2="207.6" stroke="#ff2d2d" stroke-width="1.1"/>
<line x1="439.10" y1="217.7" x2="439.10" y2="218.7" stroke="#ff2d2d" stroke-width="1.1"/>
<rect x="438.00" y="208.0" width="2.2" height="9.2" fill="#fff3f3" stroke="#ff2d2d" stroke-width="0.95"/>
<line x1="445.80" y1="205.0" x2="445.80" y2="214.7" stroke="#2a3aa0" stroke-width="1.1"/>
<rect x="444.25" y="206.2" width="3.1" height="8.1" fill="#2a3aa0"/>
<line x1="452.50" y1="208.6" x2="452.50" y2="219.8" stroke="#2a3aa0" stroke-width="1.1"/>
<rect x="450.95" y="210.0" width="3.1" height="5.7" fill="#2a3aa0"/>
<line x1="459.20" y1="205.6" x2="459.20" y2="209.2" stroke="#ff2d2d" stroke-width="1.1"/>
<line x1="459.20" y1="212.7" x2="459.20" y2="213.3" stroke="#ff2d2d" stroke-width="1.1"/>
<rect x="458.10" y="209.6" width="2.2" height="2.6" fill="#fff3f3" stroke="#ff2d2d" stroke-width="0.95"/>
<line x1="465.90" y1="198.1" x2="465.90" y2="198.5" stroke="#ff2d2d" stroke-width="1.1"/>
<line x1="465.90" y1="209.0" x2="465.90" y2="211.7" stroke="#ff2d2d" stroke-width="1.1"/>
<rect x="464.80" y="198.9" width="2.2" height="9.6" fill="#fff3f3" stroke="#ff2d2d" stroke-width="0.95"/>
<line x1="472.60" y1="199.9" x2="472.60" y2="216.3" stroke="#2a3aa0" stroke-width="1.1"/>
<rect x="471.05" y="200.5" width="3.1" height="12.2" fill="#2a3aa0"/>
<line x1="479.30" y1="197.5" x2="479.30" y2="198.1" stroke="#ff2d2d" stroke-width="1.1"/>
<line x1="479.30" y1="223.8" x2="479.30" y2="231.9" stroke="#ff2d2d" stroke-width="1.1"/>
<rect x="478.20" y="198.5" width="2.2" height="24.8" fill="#fff3f3" stroke="#ff2d2d" stroke-width="0.95"/>
<line x1="486.00" y1="191.0" x2="486.00" y2="201.6" stroke="#2a3aa0" stroke-width="1.1"/>
<rect x="484.45" y="196.9" width="3.1" height="4.3" fill="#2a3aa0"/>
<line x1="492.70" y1="194.9" x2="492.70" y2="209.6" stroke="#2a3aa0" stroke-width="1.1"/>
<rect x="491.15" y="199.5" width="3.1" height="6.7" fill="#2a3aa0"/>
<line x1="499.40" y1="192.5" x2="499.40" y2="193.1" stroke="#ff2d2d" stroke-width="1.1"/>
<line x1="499.40" y1="204.6" x2="499.40" y2="205.0" stroke="#ff2d2d" stroke-width="1.1"/>
<rect x="498.30" y="193.5" width="2.2" height="10.6" fill="#fff3f3" stroke="#ff2d2d" stroke-width="0.95"/>
<line x1="506.10" y1="193.9" x2="506.10" y2="204.0" stroke="#2a3aa0" stroke-width="1.1"/>
<rect x="504.55" y="194.5" width="3.1" height="9.1" fill="#2a3aa0"/>
<line x1="512.80" y1="195.5" x2="512.80" y2="205.0" stroke="#2a3aa0" stroke-width="1.1"/>
<rect x="511.25" y="199.5" width="3.1" height="4.7" fill="#2a3aa0"/>
<line x1="519.50" y1="201.2" x2="519.50" y2="208.0" stroke="#2a3aa0" stroke-width="1.1"/>
<rect x="517.95" y="202.0" width="3.1" height="5.6" fill="#2a3aa0"/>
<line x1="526.20" y1="191.8" x2="526.20" y2="192.5" stroke="#ff2d2d" stroke-width="1.1"/>
<line x1="526.20" y1="203.6" x2="526.20" y2="205.0" stroke="#ff2d2d" stroke-width="1.1"/>
<rect x="525.10" y="192.9" width="2.2" height="10.2" fill="#fff3f3" stroke="#ff2d2d" stroke-width="0.95"/>
<line x1="532.90" y1="189.0" x2="532.90" y2="189.8" stroke="#ff2d2d" stroke-width="1.1"/>
<line x1="532.90" y1="193.1" x2="532.90" y2="198.5" stroke="#ff2d2d" stroke-width="1.1"/>
<rect x="531.80" y="190.2" width="2.2" height="2.4" fill="#fff3f3" stroke="#ff2d2d" stroke-width="0.95"/>
<line x1="539.60" y1="184.4" x2="539.60" y2="185.8" stroke="#ff2d2d" stroke-width="1.1"/>
<line x1="539.60" y1="189.8" x2="539.60" y2="194.5" stroke="#ff2d2d" stroke-width="1.1"/>
<rect x="538.50" y="186.2" width="2.2" height="3.1" fill="#fff3f3" stroke="#ff2d2d" stroke-width="0.95"/>
<line x1="546.30" y1="179.3" x2="546.30" y2="187.8" stroke="#2a3aa0" stroke-width="1.1"/>
<rect x="544.75" y="182.9" width="3.1" height="4.5" fill="#2a3aa0"/>
<line x1="553.00" y1="173.8" x2="553.00" y2="174.7" stroke="#ff2d2d" stroke-width="1.1"/>
<line x1="553.00" y1="186.8" x2="553.00" y2="187.4" stroke="#ff2d2d" stroke-width="1.1"/>
<rect x="551.90" y="175.1" width="2.2" height="11.2" fill="#fff3f3" stroke="#ff2d2d" stroke-width="0.95"/>
<line x1="559.70" y1="171.6" x2="559.70" y2="187.8" stroke="#2a3aa0" stroke-width="1.1"/>
<rect x="558.15" y="173.2" width="3.1" height="12.8" fill="#2a3aa0"/>
<line x1="566.40" y1="176.5" x2="566.40" y2="177.4" stroke="#ff2d2d" stroke-width="1.1"/>
<line x1="566.40" y1="185.2" x2="566.40" y2="186.0" stroke="#ff2d2d" stroke-width="1.1"/>
<rect x="565.30" y="177.8" width="2.2" height="6.9" fill="#fff3f3" stroke="#ff2d2d" stroke-width="0.95"/>
<line x1="573.10" y1="170.5" x2="573.10" y2="173.5" stroke="#ff2d2d" stroke-width="1.1"/>
<line x1="573.10" y1="178.5" x2="573.10" y2="179.5" stroke="#ff2d2d" stroke-width="1.1"/>
<rect x="572.00" y="173.9" width="2.2" height="4.1" fill="#fff3f3" stroke="#ff2d2d" stroke-width="0.95"/>
<line x1="579.80" y1="172.5" x2="579.80" y2="180.6" stroke="#2a3aa0" stroke-width="1.1"/>
<rect x="578.25" y="173.1" width="3.1" height="6.9" fill="#2a3aa0"/>
<line x1="586.50" y1="174.9" x2="586.50" y2="187.0" stroke="#2a3aa0" stroke-width="1.1"/>
<rect x="584.95" y="176.1" width="3.1" height="5.5" fill="#2a3aa0"/>
<line x1="593.20" y1="173.5" x2="593.20" y2="177.5" stroke="#ff2d2d" stroke-width="1.1"/>
<line x1="593.20" y1="183.6" x2="593.20" y2="184.0" stroke="#ff2d2d" stroke-width="1.1"/>
<rect x="592.10" y="177.9" width="2.2" height="5.2" fill="#fff3f3" stroke="#ff2d2d" stroke-width="0.95"/>
<line x1="599.90" y1="173.5" x2="599.90" y2="174.1" stroke="#ff2d2d" stroke-width="1.1"/>
<line x1="599.90" y1="178.9" x2="599.90" y2="183.0" stroke="#ff2d2d" stroke-width="1.1"/>
<rect x="598.80" y="174.5" width="2.2" height="3.9" fill="#fff3f3" stroke="#ff2d2d" stroke-width="0.95"/>
<line x1="606.60" y1="166.0" x2="606.60" y2="168.4" stroke="#ff2d2d" stroke-width="1.1"/>
<line x1="606.60" y1="175.5" x2="606.60" y2="176.1" stroke="#ff2d2d" stroke-width="1.1"/>
<rect x="605.50" y="168.8" width="2.2" height="6.2" fill="#fff3f3" stroke="#ff2d2d" stroke-width="0.95"/>
<line x1="613.30" y1="155.9" x2="613.30" y2="163.4" stroke="#ff2d2d" stroke-width="1.1"/>
<line x1="613.30" y1="169.4" x2="613.30" y2="169.8" stroke="#ff2d2d" stroke-width="1.1"/>
<rect x="612.20" y="163.8" width="2.2" height="5.1" fill="#fff3f3" stroke="#ff2d2d" stroke-width="0.95"/>
<line x1="620.00" y1="160.7" x2="620.00" y2="176.1" stroke="#2a3aa0" stroke-width="1.1"/>
<rect x="618.45" y="161.8" width="3.1" height="12.7" fill="#2a3aa0"/>
<line x1="626.70" y1="164.8" x2="626.70" y2="165.4" stroke="#ff2d2d" stroke-width="1.1"/>
<line x1="626.70" y1="174.5" x2="626.70" y2="174.9" stroke="#ff2d2d" stroke-width="1.1"/>
<rect x="625.60" y="165.8" width="2.2" height="8.2" fill="#fff3f3" stroke="#ff2d2d" stroke-width="0.95"/>
<line x1="633.40" y1="163.4" x2="633.40" y2="175.5" stroke="#2a3aa0" stroke-width="1.1"/>
<rect x="631.85" y="164.8" width="3.1" height="8.7" fill="#2a3aa0"/>
<line x1="640.10" y1="167.4" x2="640.10" y2="176.1" stroke="#2a3aa0" stroke-width="1.1"/>
<rect x="638.55" y="170.5" width="3.1" height="1.4" fill="#2a3aa0"/>
<line x1="646.80" y1="170.5" x2="646.80" y2="186.6" stroke="#2a3aa0" stroke-width="1.1"/>
<rect x="645.25" y="171.1" width="3.1" height="13.5" fill="#2a3aa0"/>
<line x1="653.50" y1="175.5" x2="653.50" y2="183.0" stroke="#2a3aa0" stroke-width="1.1"/>
<rect x="651.95" y="179.2" width="3.1" height="3.4" fill="#2a3aa0"/>
<line x1="660.20" y1="173.5" x2="660.20" y2="175.5" stroke="#ff2d2d" stroke-width="1.1"/>
<line x1="660.20" y1="183.6" x2="660.20" y2="186.2" stroke="#ff2d2d" stroke-width="1.1"/>
<rect x="659.10" y="175.9" width="2.2" height="7.2" fill="#fff3f3" stroke="#ff2d2d" stroke-width="0.95"/>
<line x1="666.90" y1="168.4" x2="666.90" y2="171.1" stroke="#ff2d2d" stroke-width="1.1"/>
<line x1="666.90" y1="174.9" x2="666.90" y2="175.5" stroke="#ff2d2d" stroke-width="1.1"/>
<rect x="665.80" y="171.5" width="2.2" height="2.9" fill="#fff3f3" stroke="#ff2d2d" stroke-width="0.95"/>
<line x1="673.60" y1="168.8" x2="673.60" y2="183.0" stroke="#2a3aa0" stroke-width="1.1"/>
<rect x="672.05" y="170.0" width="3.1" height="12.6" fill="#2a3aa0"/>
<line x1="680.30" y1="175.5" x2="680.30" y2="176.5" stroke="#ff2d2d" stroke-width="1.1"/>
<line x1="680.30" y1="182.2" x2="680.30" y2="183.0" stroke="#ff2d2d" stroke-width="1.1"/>
<rect x="679.20" y="176.9" width="2.2" height="4.8" fill="#fff3f3" stroke="#ff2d2d" stroke-width="0.95"/>
<line x1="687.00" y1="167.0" x2="687.00" y2="171.1" stroke="#ff2d2d" stroke-width="1.1"/>
<line x1="687.00" y1="179.2" x2="687.00" y2="180.0" stroke="#ff2d2d" stroke-width="1.1"/>
<rect x="685.90" y="171.5" width="2.2" height="7.2" fill="#fff3f3" stroke="#ff2d2d" stroke-width="0.95"/>
<line x1="693.70" y1="165.4" x2="693.70" y2="166.8" stroke="#ff2d2d" stroke-width="1.1"/>
<line x1="693.70" y1="171.5" x2="693.70" y2="175.5" stroke="#ff2d2d" stroke-width="1.1"/>
<rect x="692.60" y="167.2" width="2.2" height="3.8" fill="#fff3f3" stroke="#ff2d2d" stroke-width="0.95"/>
<line x1="700.40" y1="159.3" x2="700.40" y2="169.8" stroke="#2a3aa0" stroke-width="1.1"/>
<rect x="698.85" y="162.4" width="3.1" height="5.6" fill="#2a3aa0"/>
<line x1="707.10" y1="163.4" x2="707.10" y2="183.0" stroke="#2a3aa0" stroke-width="1.1"/>
<rect x="705.55" y="163.9" width="3.1" height="18.6" fill="#2a3aa0"/>
<line x1="713.80" y1="178.0" x2="713.80" y2="179.0" stroke="#ff2d2d" stroke-width="1.1"/>
<line x1="713.80" y1="182.5" x2="713.80" y2="183.3" stroke="#ff2d2d" stroke-width="1.1"/>
<rect x="712.70" y="179.4" width="2.2" height="2.6" fill="#fff3f3" stroke="#ff2d2d" stroke-width="0.95"/>
<line x1="720.50" y1="177.6" x2="720.50" y2="184.8" stroke="#2a3aa0" stroke-width="1.1"/>
<rect x="718.95" y="179.7" width="3.1" height="2.0" fill="#2a3aa0"/>
<line x1="727.20" y1="171.9" x2="727.20" y2="173.1" stroke="#ff2d2d" stroke-width="1.1"/>
<line x1="727.20" y1="180.2" x2="727.20" y2="184.0" stroke="#ff2d2d" stroke-width="1.1"/>
<rect x="726.10" y="173.5" width="2.2" height="6.2" fill="#fff3f3" stroke="#ff2d2d" stroke-width="0.95"/>
</g>
<text y="219.6" font-family="'Liberation Sans', 'Noto Sans CJK JP', sans-serif" font-weight="700" font-size="17.3" fill="#000"><tspan x="30.4" textLength="90.6" lengthAdjust="spacingAndGlyphs">ヘルスケア</tspan><tspan x="120.1" textLength="20" lengthAdjust="spacingAndGlyphs">＆</tspan><tspan x="138.6" textLength="78.5" lengthAdjust="spacingAndGlyphs">メディカル</tspan><tspan x="215.9" textLength="50.7" lengthAdjust="spacingAndGlyphs">(3455)</tspan></text>
<g fill="none" stroke-linecap="butt">
<line x1="45.5" y1="75.8" x2="663.5" y2="75.8" stroke="#ff0000" stroke-width="3.1"/>
<ellipse cx="726.7" cy="75.6" rx="63.2" ry="17.4" stroke="#ff0000" stroke-width="2.2"/>
<line x1="46" y1="76.2" x2="477.3" y2="194.1" stroke="#0000ff" stroke-width="3.1"/>
<polyline points="468.2,185.3 478.2,194.0 465.2,196.6" stroke="#0000ff" stroke-width="2.5" stroke-linejoin="round" stroke-linecap="round"/>
<line x1="478.2" y1="233.6" x2="657.5" y2="233.6" stroke="#0000ff" stroke-width="3"/>
<ellipse cx="719.5" cy="233" rx="62.3" ry="18.9" stroke="#0000ff" stroke-width="2.2"/>
<line x1="478.6" y1="231" x2="726.5" y2="189.6" stroke="#ff0000" stroke-width="3.4"/>
<polyline points="714.6,185.8 727.3,189.4 717.6,197.2" stroke="#ff0000" stroke-width="3.2" stroke-linejoin="round" stroke-linecap="round"/>
<path d="M44.9 62.5V75.6M40.2 69.5L44.9 75.8L49.7 69.5" stroke="#ff0000" stroke-width="1.3"/>
<path d="M480.1 248.1V236.6M475.2 242.5L480.1 236.4L484.9 242.5" stroke="#0000ff" stroke-width="1.3"/>
</g>
<text x="18.6" y="54.3" font-family="'Liberation Sans', 'Noto Sans CJK JP', sans-serif" font-weight="700" font-size="13" fill="#ff0000" textLength="52.6" lengthAdjust="spacing">１月９日</text>
<text font-family="'Liberation Sans', 'Noto Sans CJK JP', sans-serif" font-weight="700" fill="#0000ff"><tspan x="457.5" y="264.7" font-size="14.8" textLength="30.6" lengthAdjust="spacingAndGlyphs">2025</tspan><tspan x="488.4" y="263.8" font-size="12.8" textLength="14.9" lengthAdjust="spacingAndGlyphs">年</tspan></text>
<text x="452.7" y="283" font-family="'Liberation Sans', 'Noto Sans CJK JP', sans-serif" font-weight="700" font-size="13" fill="#0000ff" textLength="53.6" lengthAdjust="spacing">４月７日</text>
<text x="691.7" y="83.3" font-family="'Liberation Sans', 'Noto Sans CJK JP', sans-serif" font-weight="700" font-size="13.8" fill="#ff0000" textLength="67.6" lengthAdjust="spacingAndGlyphs">142,100円</text>
<text x="685.9" y="240.8" font-family="'Liberation Sans', 'Noto Sans CJK JP', sans-serif" font-weight="700" font-size="13.8" fill="#0000ff" textLength="67.6" lengthAdjust="spacingAndGlyphs">102,200円</text>
<text y="426.8" font-family="'Liberation Sans', 'Noto Sans CJK JP', sans-serif" font-weight="700" font-size="14.8" fill="#ff0000"><tspan x="540.3">下段</tspan><tspan x="571.8">:</tspan><tspan x="579">出来高</tspan></text>
<text x="26.3" y="429.6" font-family="IPAGothic, 'Noto Sans CJK JP', monospace" font-size="15" fill="#33dd00" stroke="#33dd00" stroke-width="0.12" textLength="135.6" lengthAdjust="spacing">単純移動平均(13週)</text>
<text x="168.4" y="429.6" font-family="IPAGothic, 'Noto Sans CJK JP', monospace" font-size="15" fill="#ff6600" stroke="#ff6600" stroke-width="0.12" textLength="135.6" lengthAdjust="spacing">単純移動平均(26週)</text>
<text x="310.5" y="429.6" font-family="IPAGothic, 'Noto Sans CJK JP', monospace" font-size="15" fill="#5a28d8" stroke="#5a28d8" stroke-width="0.12" textLength="135.6" lengthAdjust="spacing">単純移動平均(52週)</text>
</svg>
</body></html>
